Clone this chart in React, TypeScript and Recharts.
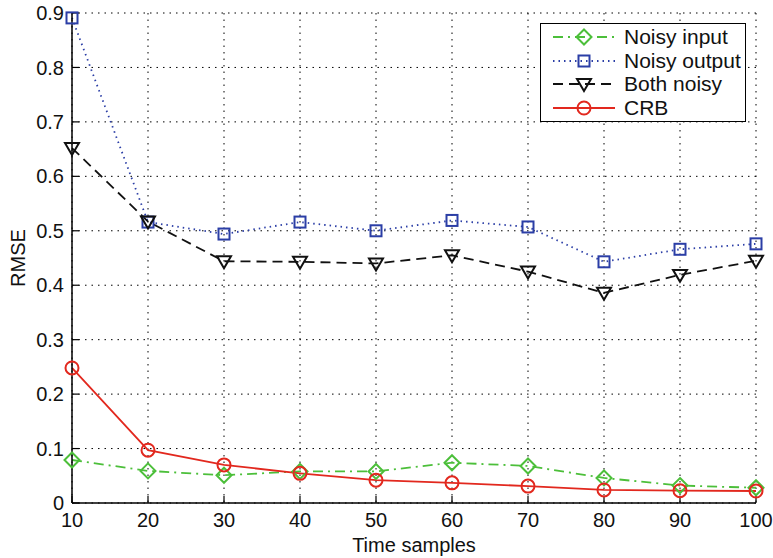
import { LineChart, Line, XAxis, YAxis, CartesianGrid } from "recharts"

const samples = [10, 20, 30, 40, 50, 60, 70, 80, 90, 100]
const noisyInput = [0.079, 0.059, 0.051, 0.058, 0.058, 0.074, 0.068, 0.046, 0.032, 0.028]
const noisyOutput = [0.891, 0.516, 0.494, 0.516, 0.5, 0.519, 0.507, 0.443, 0.466, 0.476]
const bothNoisy = [0.652, 0.517, 0.444, 0.443, 0.44, 0.455, 0.425, 0.386, 0.419, 0.445]
const crb = [0.248, 0.097, 0.07, 0.0545, 0.042, 0.037, 0.031, 0.024, 0.0226, 0.022]

const xTicks = [10, 20, 30, 40, 50, 60, 70, 80, 90, 100]
const xMinorTicks = [12, 14, 16, 18, 22, 24, 26, 28, 32, 34, 36, 38, 42, 44, 46, 48, 52, 54, 56, 58, 62, 64, 66, 68, 72, 74, 76, 78, 82, 84, 86, 88, 92, 94, 96, 98]
const yTicks = [0, 0.1, 0.2, 0.3, 0.4, 0.5, 0.6, 0.7, 0.8, 0.9]

const data = samples.map((t, i) => ({
  t,
  noisyInput: noisyInput[i],
  noisyOutput: noisyOutput[i],
  bothNoisy: bothNoisy[i],
  crb: crb[i],
}))

const GREEN = "#4cbf3a"
const BLUE = "#2b3ea6"
const RED = "#e2281e"
const FONT = "'Liberation Sans', Arial, sans-serif"

function marker(kind: string, cx: number, cy: number, color: string, key?: string) {
  if (kind === "diamond") {
    const r = 7.5
    return <polygon key={key} points={`${cx},${cy - r} ${cx + r},${cy} ${cx},${cy + r} ${cx - r},${cy}`} fill="none" stroke={color} strokeWidth={2} />
  }
  if (kind === "square") {
    const s = 5.5
    return <rect key={key} x={cx - s} y={cy - s} width={s * 2} height={s * 2} fill="none" stroke={color} strokeWidth={2} />
  }
  if (kind === "triangle") {
    return <polygon key={key} points={`${cx - 7},${cy - 5} ${cx + 7},${cy - 5} ${cx},${cy + 7}`} fill="none" stroke={color} strokeWidth={2} />
  }
  return <circle key={key} cx={cx} cy={cy} r={6.5} fill="none" stroke={color} strokeWidth={2} />
}

const series = [
  { key: "noisyInput", name: "Noisy input", color: GREEN, dash: "10 5 2 5", shape: "diamond" },
  { key: "noisyOutput", name: "Noisy output", color: BLUE, dash: "1.5 4", shape: "square" },
  { key: "bothNoisy", name: "Both noisy", color: "#111", dash: "10 6", shape: "triangle" },
  { key: "crb", name: "CRB", color: RED, dash: undefined, shape: "circle" },
]

function ChartLegend() {
  return (
    <div style={{ position: "absolute", left: 540, top: 23, border: "1.5px solid #000", background: "#fff", width: 206, height: 99, boxSizing: "border-box", fontFamily: FONT, fontSize: 21, color: "#111", paddingTop: 1 }}>
      {series.map((s) => (
        <div key={s.key} style={{ display: "flex", alignItems: "center", height: 23.7 }}>
          <svg width={78} height={22} style={{ marginLeft: 4, flex: "none" }}>
            <line x1={8} y1={11} x2={70} y2={11} stroke={s.color} strokeWidth={1.8} strokeDasharray={s.dash} />
            {marker(s.shape, 39, 11, s.color)}
          </svg>
          <span style={{ marginLeft: 1, whiteSpace: "nowrap" }}>{s.name}</span>
        </div>
      ))}
    </div>
  )
}

export default function App() {
  return (
    <div style={{ position: "absolute", left: 0, top: 0, width: 773, height: 558, background: "#fff" }}>
      <LineChart width={773} height={558} data={data} margin={{ top: 13, right: 17, bottom: 0, left: 0 }}>
        <CartesianGrid stroke="#000" strokeDasharray="1.5 5" strokeWidth={1} />
        <XAxis
          xAxisId="minor"
          dataKey="t"
          type="number"
          domain={[10, 100]}
          ticks={xMinorTicks}
          height={0}
          tick={false}
          axisLine={false}
          tickSize={-3.5}
          tickLine={{ stroke: "#000", strokeWidth: 1 }}
        />
        <XAxis
          dataKey="t"
          type="number"
          domain={[10, 100]}
          ticks={xTicks}
          height={55}
          tickSize={-7}
          tickMargin={17}
          axisLine={{ stroke: "#000", strokeWidth: 1.5 }}
          tickLine={{ stroke: "#000", strokeWidth: 1.2 }}
          tick={{ fill: "#111", fontSize: 20, fontFamily: FONT }}
          label={({ viewBox }: any) => (
            <text x={viewBox.x + viewBox.width / 2} y={552} textAnchor="middle" fill="#111" fontSize={20} fontFamily={FONT}>
              Time samples
            </text>
          )}
        />
        <XAxis
          xAxisId="top"
          orientation="top"
          dataKey="t"
          type="number"
          domain={[10, 100]}
          ticks={xTicks}
          height={0}
          tick={false}
          tickSize={-7}
          axisLine={{ stroke: "#000", strokeWidth: 1.5 }}
          tickLine={{ stroke: "#000", strokeWidth: 1.2 }}
        />
        <YAxis
          type="number"
          domain={[0, 0.9]}
          ticks={yTicks}
          width={72}
          tickSize={-7}
          tickMargin={15}
          axisLine={{ stroke: "#000", strokeWidth: 1.5 }}
          tickLine={{ stroke: "#000", strokeWidth: 1.2 }}
          tick={{ fill: "#111", fontSize: 20, fontFamily: FONT }}
          label={({ viewBox }: any) => (
            <text x={25} y={viewBox.y + viewBox.height / 2} transform={`rotate(-90, 25, ${viewBox.y + viewBox.height / 2})`} textAnchor="middle" fill="#111" fontSize={20} fontFamily={FONT}>
              RMSE
            </text>
          )}
        />
        <YAxis
          yAxisId="right"
          orientation="right"
          type="number"
          domain={[0, 0.9]}
          ticks={yTicks}
          width={0}
          tick={false}
          tickSize={-7}
          axisLine={{ stroke: "#000", strokeWidth: 1.5 }}
          tickLine={{ stroke: "#000", strokeWidth: 1.2 }}
        />
        {series.map((s) => (
          <Line
            key={s.key}
            dataKey={s.key}
            name={s.name}
            type="linear"
            stroke={s.color}
            strokeWidth={1.8}
            strokeDasharray={s.dash}
            isAnimationActive={false}
            dot={(p: any) => marker(s.shape, p.cx, p.cy, s.color, `${s.key}-${p.index}`)}
          />
        ))}
      </LineChart>
      <ChartLegend />
    </div>
  )
}
